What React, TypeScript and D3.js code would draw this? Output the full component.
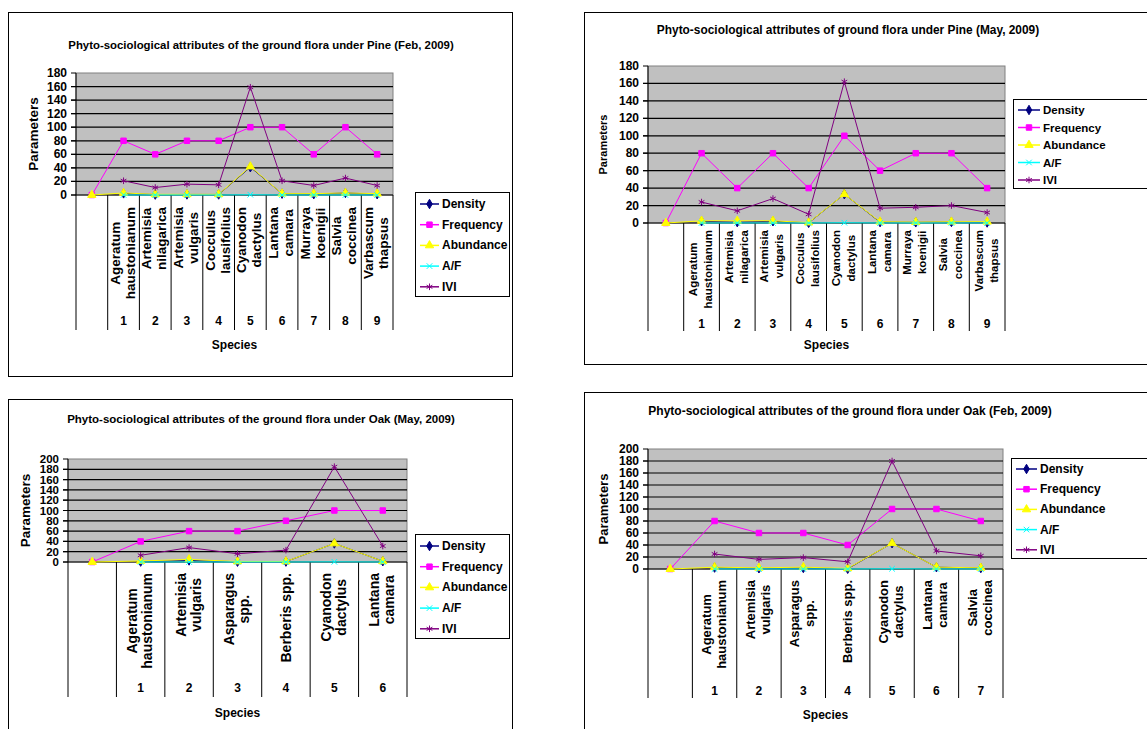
import * as d3 from "d3";

const width = 1147;
const height = 729;
const font = '"Liberation Sans", Arial, sans-serif';

// series shared by all four charts
const seriesNames = ["Density", "Frequency", "Abundance", "A/F", "IVI"];
const seriesColors = ["#000080", "#ff00ff", "#ffff00", "#00ffff", "#800080"];

// category labels
const pineSpecies = [
  [],
  ["Ageratum", "haustonianum"],
  ["Artemisia", "nilagarica"],
  ["Artemisia", "vulgaris"],
  ["Cocculus", "lausifolius"],
  ["Cyanodon", "dactylus"],
  ["Lantana", "camara"],
  ["Murraya", "koenigii"],
  ["Salvia", "coccinea"],
  ["Varbascum", "thapsus"],
];
const pineNumbers = ["", "1", "2", "3", "4", "5", "6", "7", "8", "9"];

const oakMaySpecies = [
  [],
  ["Ageratum", "haustonianum"],
  ["Artemisia", "vulgaris"],
  ["Asparagus", "spp."],
  ["Berberis spp."],
  ["Cyanodon", "dactylus"],
  ["Lantana", "camara"],
];
const oakMayNumbers = ["", "1", "2", "3", "4", "5", "6"];

const oakFebSpecies = [
  [],
  ["Ageratum", "haustonianum"],
  ["Artemisia", "vulgaris"],
  ["Asparagus", "spp."],
  ["Berberis spp."],
  ["Cyanodon", "dactylus"],
  ["Lantana", "camara"],
  ["Salvia", "coccinea"],
];
const oakFebNumbers = ["", "1", "2", "3", "4", "5", "6", "7"];

// Pine, Feb 2009
const pineFebDensity = [null, 2.4, 0.6, 0.8, 0.8, 41, 2, 1.2, 3, 1.2];
const pineFebFrequency = [0, 80, 60, 80, 80, 100, 100, 60, 100, 60];
const pineFebAbundance = [0, 3, 1, 1, 1, 42, 2, 2, 3, 2];
const pineFebAF = [null, 0.04, 0.02, 0.01, 0.01, 0.42, 0.02, 0.03, 0.03, 0.03];
const pineFebIVI = [null, 21, 11, 16, 15, 159, 21, 14, 25, 14];

// Pine, May 2009
const pineMayDensity = [null, 2, 1, 2, 0.2, 33, 1, 0.8, 1.2, 0.6];
const pineMayFrequency = [0, 80, 40, 80, 40, 100, 60, 80, 80, 40];
const pineMayAbundance = [0, 2.5, 2.5, 2.5, 0.5, 33, 1.5, 1, 1.5, 1.5];
const pineMayAF = [null, 0.03, 0.06, 0.03, 0.01, 0.33, 0.03, 0.01, 0.02, 0.04];
const pineMayIVI = [null, 24, 14, 28, 10, 162, 17, 18, 20, 12];

// Oak, May 2009
const oakMayDensity = [null, 0.8, 3, 0.6, 0.8, 36, 1.5];
const oakMayFrequency = [0, 40, 60, 60, 80, 100, 100];
const oakMayAbundance = [0, 2, 5, 1, 1, 36, 1.5];
const oakMayAF = [null, 0.05, 0.08, 0.02, 0.01, 0.36, 0.02];
const oakMayIVI = [null, 13, 28, 16, 23, 185, 31];

// Oak, Feb 2009
const oakFebDensity = [null, 2.4, 1.2, 1.8, 0.4, 43, 3, 1.6];
const oakFebFrequency = [0, 80, 60, 60, 40, 100, 100, 80];
const oakFebAbundance = [0, 3, 2, 3, 1, 43, 3, 2];
const oakFebAF = [null, 0.04, 0.03, 0.05, 0.03, 0.43, 0.03, 0.03];
const oakFebIVI = [null, 25, 16, 19, 12, 180, 30, 22];

const symbolTypes = [
  d3.symbolDiamond,
  d3.symbolSquare,
  d3.symbolTriangle,
  d3.symbolTimes ?? d3.symbolCross,
  d3.symbolAsterisk ?? d3.symbolStar,
];
const symbolSizes = [26, 30, 30, 22, 30];
const strokeOnly = [false, false, false, true, true];

let ctx: CanvasRenderingContext2D | null = null;
function textWidth(s: string, size: number) {
  if (!ctx) ctx = document.createElement("canvas").getContext("2d");
  if (!ctx) return s.length * size * 0.55;
  ctx.font = `bold ${size}px ${font}`;
  return ctx.measureText(s).width;
}

const Marker = ({ i, x, y }: { i: number; x: number; y: number }) => {
  const d = d3.symbol(symbolTypes[i], symbolSizes[i])();
  return (
    <path
      d={d ?? ""}
      transform={`translate(${x},${y})`}
      fill={strokeOnly[i] ? "none" : seriesColors[i]}
      stroke={seriesColors[i]}
      strokeWidth={1}
    />
  );
};

type Cfg = {
  title: string;
  titleX: number;
  titleY: number;
  titleSize: number;
  frame: [number, number, number, number];
  left: number;
  right: number;
  top: number;
  zero: number;
  bottom: number;
  yMax: number;
  tickSize: number;
  numbersY: number;
  speciesY: number;
  paramsX: number;
  paramsSize: number;
  labelSize: number;
  labelPad: number;
  lineGap: number;
  legend: { x: number; y: number; w: number; h: number; x1: number; x2: number; tx: number; row0: number; step: number; size: number };
};

const Panel = ({ cfg, labels, numbers, values }: { cfg: Cfg; labels: string[][]; numbers: string[]; values: (number | null)[][] }) => {
  const xScale = d3.scaleBand<number>().domain(d3.range(labels.length)).range([cfg.left, cfg.right]).padding(0);
  const yScale = d3.scaleLinear().domain([0, cfg.yMax]).range([cfg.zero, cfg.top]);
  const cx = (i: number) => (xScale(i) ?? 0) + xScale.bandwidth() / 2;
  const ticks = yScale.ticks(10);

  const line = d3
    .line<number | null>()
    .defined(d => d != null)
    .x((_, i) => cx(i))
    .y(d => yScale(d as number));

  const bounds = d3.range(labels.length + 1).map(i => cfg.left + i * xScale.bandwidth());
  const lg = cfg.legend;

  return (
    <g>
      <rect x={cfg.frame[0]} y={cfg.frame[1]} width={cfg.frame[2]} height={cfg.frame[3]} fill="#fff" stroke="#000" strokeWidth={1} />
      <text x={cfg.titleX} y={cfg.titleY} textAnchor="middle" dominantBaseline="central" fontSize={cfg.titleSize} fontWeight="bold">
        {cfg.title}
      </text>

      {/* plot area */}
      <rect x={cfg.left} y={cfg.top} width={cfg.right - cfg.left} height={cfg.zero - cfg.top} fill="#c0c0c0" stroke="#808080" strokeWidth={1} />
      {ticks.map(t => (
        <g key={t}>
          <line x1={cfg.left - 5} x2={cfg.right} y1={yScale(t)} y2={yScale(t)} stroke="#000" strokeWidth={t === cfg.yMax ? 0 : 1.2} />
          <line x1={cfg.left - 5} x2={cfg.left} y1={yScale(t)} y2={yScale(t)} stroke="#000" strokeWidth={1} />
          <text x={cfg.left - 9} y={yScale(t)} textAnchor="end" dominantBaseline="central" fontSize={cfg.tickSize} fontWeight="bold">
            {t}
          </text>
        </g>
      ))}
      <line x1={cfg.left} x2={cfg.left} y1={cfg.top} y2={cfg.zero} stroke="#000" strokeWidth={1} />

      {/* category axis */}
      {bounds.map((b, i) => (
        <line key={i} x1={b} x2={b} y1={cfg.zero} y2={cfg.bottom} stroke="#000" strokeWidth={1} />
      ))}
      {labels.map((lines, i) => {
        if (!lines.length) return null;
        const maxW = d3.max(lines, s => textWidth(s, cfg.labelSize)) ?? 0;
        const yc = cfg.zero + cfg.labelPad + maxW / 2;
        return lines.map((s, j) => {
          const lx = cx(i) + (j - (lines.length - 1) / 2) * cfg.lineGap - (lines.length > 1 ? 1 : 0);
          return (
            <text
              key={`${i}-${j}`}
              x={lx}
              y={yc}
              transform={`rotate(-90,${lx},${yc})`}
              textAnchor="middle"
              dominantBaseline="central"
              fontSize={cfg.labelSize}
              fontWeight="bold"
            >
              {s}
            </text>
          );
        });
      })}
      {numbers.map((n, i) => (
        <text key={i} x={cx(i)} y={cfg.numbersY} textAnchor="middle" dominantBaseline="central" fontSize={12} fontWeight="bold">
          {n}
        </text>
      ))}
      <text x={(cfg.left + cfg.right) / 2} y={cfg.speciesY} textAnchor="middle" dominantBaseline="central" fontSize={12} fontWeight="bold">
        Species
      </text>
      <text
        x={cfg.paramsX}
        y={(cfg.top + cfg.zero) / 2}
        transform={`rotate(-90,${cfg.paramsX},${(cfg.top + cfg.zero) / 2})`}
        textAnchor="middle"
        dominantBaseline="central"
        fontSize={cfg.paramsSize}
        fontWeight="bold"
      >
        Parameters
      </text>

      {/* series */}
      {values.map((vals, s) => (
        <g key={s}>
          <path d={line(vals) ?? ""} fill="none" stroke={seriesColors[s]} strokeWidth={1} />
          {vals.map((v, i) => (v == null ? null : <Marker key={i} i={s} x={cx(i)} y={yScale(v)} />))}
        </g>
      ))}

      {/* legend */}
      <rect x={lg.x} y={lg.y} width={lg.w} height={lg.h} fill="#fff" stroke="#000" strokeWidth={1} />
      {seriesNames.map((name, s) => {
        const ry = lg.row0 + s * lg.step;
        return (
          <g key={name}>
            <line x1={lg.x1} x2={lg.x2} y1={ry} y2={ry} stroke={seriesColors[s]} strokeWidth={1.5} />
            <Marker i={s} x={(lg.x1 + lg.x2) / 2} y={ry} />
            <text x={lg.tx} y={ry} dominantBaseline="central" fontSize={lg.size} fontWeight="bold">
              {name}
            </text>
          </g>
        );
      })}
    </g>
  );
};

const pineFebCfg: Cfg = {
  title: "Phyto-sociological attributes of the ground flora under Pine (Feb, 2009)",
  titleX: 261, titleY: 45, titleSize: 11.4,
  frame: [8.5, 12.5, 504, 364],
  left: 76, right: 393, top: 73, zero: 195, bottom: 330, yMax: 180, tickSize: 12,
  numbersY: 321, speciesY: 345, paramsX: 33, paramsSize: 13.5,
  labelSize: 13.5, labelPad: 12, lineGap: 15,
  legend: { x: 415.5, y: 192.5, w: 94, h: 104, x1: 420, x2: 439, tx: 442, row0: 204, step: 20.7, size: 12 },
};

const pineMayCfg: Cfg = {
  title: "Phyto-sociological attributes of ground flora under Pine (May, 2009)",
  titleX: 848, titleY: 30, titleSize: 11.9,
  frame: [584.5, 12.5, 600, 352],
  left: 648, right: 1005, top: 66, zero: 223, bottom: 331, yMax: 180, tickSize: 12,
  numbersY: 324, speciesY: 345, paramsX: 603, paramsSize: 11,
  labelSize: 11.5, labelPad: 7, lineGap: 15,
  legend: { x: 1013.5, y: 99.5, w: 200, h: 89, x1: 1018, x2: 1040, tx: 1043, row0: 110, step: 17.5, size: 11.5 },
};

const oakMayCfg: Cfg = {
  title: "Phyto-sociological attributes of the ground flora under Oak (May, 2009)",
  titleX: 261, titleY: 419, titleSize: 11.5,
  frame: [8.5, 399.5, 504, 400],
  left: 68, right: 407, top: 459, zero: 562, bottom: 697, yMax: 200, tickSize: 11.5,
  numbersY: 688, speciesY: 713, paramsX: 25, paramsSize: 13.5,
  labelSize: 14, labelPad: 11, lineGap: 15,
  legend: { x: 415.5, y: 534.5, w: 94, h: 104, x1: 420, x2: 439, tx: 442, row0: 546, step: 20.7, size: 12 },
};

const oakFebCfg: Cfg = {
  title: "Phyto-sociological attributes of the ground flora under Oak (Feb, 2009)",
  titleX: 850, titleY: 411, titleSize: 12,
  frame: [584.5, 392.5, 600, 400],
  left: 648, right: 1003, top: 449, zero: 569, bottom: 698, yMax: 200, tickSize: 12,
  numbersY: 691, speciesY: 715, paramsX: 603, paramsSize: 13,
  labelSize: 13, labelPad: 11, lineGap: 15,
  legend: { x: 1011.5, y: 458.5, w: 200, h: 100, x1: 1016, x2: 1037, tx: 1040, row0: 469, step: 20.2, size: 12 },
};

const App = () => {
  return (
    <svg width={width} height={height} style={{ position: "absolute", left: 0, top: 0, fontFamily: font }}>
      <rect width={width} height={height} fill="#fff" />
      <Panel
        cfg={pineFebCfg}
        labels={pineSpecies}
        numbers={pineNumbers}
        values={[pineFebDensity, pineFebFrequency, pineFebAbundance, pineFebAF, pineFebIVI]}
      />
      <Panel
        cfg={pineMayCfg}
        labels={pineSpecies}
        numbers={pineNumbers}
        values={[pineMayDensity, pineMayFrequency, pineMayAbundance, pineMayAF, pineMayIVI]}
      />
      <Panel
        cfg={oakMayCfg}
        labels={oakMaySpecies}
        numbers={oakMayNumbers}
        values={[oakMayDensity, oakMayFrequency, oakMayAbundance, oakMayAF, oakMayIVI]}
      />
      <Panel
        cfg={oakFebCfg}
        labels={oakFebSpecies}
        numbers={oakFebNumbers}
        values={[oakFebDensity, oakFebFrequency, oakFebAbundance, oakFebAF, oakFebIVI]}
      />
    </svg>
  );
};

export default App;
